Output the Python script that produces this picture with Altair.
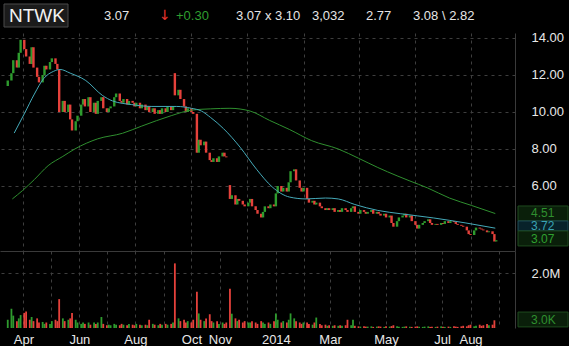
import altair as alt
import pandas as pd

# ---------------- data ----------------
closes = [
    11.7, 12.1, 12.8, 12.4, 13.2, 13.9, 13.4, 13.0, 12.6, 13.5,
    12.4, 11.9, 11.6, 12.0, 12.5, 12.3, 12.7, 12.9, 12.6, 12.3,
    10.0, 10.6, 10.0, 10.4, 9.6, 9.0, 9.5, 9.8, 10.4, 10.7,
    10.3, 10.8, 10.0, 10.5, 9.9, 10.6, 10.8, 10.2, 10.0, 10.2,
    10.3, 10.8, 11.0, 10.6, 10.5, 10.7, 10.4, 10.6, 10.5, 10.3,
    10.5, 10.2, 10.4, 10.1, 10.3, 10.0, 10.2, 9.9, 10.1, 9.9,
    10.2, 10.0, 10.3, 10.1, 10.3, 10.9, 11.2, 10.7, 10.3, 10.0,
    10.2, 10.0, 9.9, 7.8, 8.5, 8.2, 8.4, 7.8, 7.4, 7.3,
    7.5, 7.3, 7.6, 7.8, 7.6, 7.55, 5.3, 5.5, 5.0, 5.3,
    5.2, 5.0, 4.9, 5.1, 5.3, 4.9, 4.7, 4.5, 4.3, 4.6,
    4.9, 4.8, 5.0, 4.9, 5.6, 6.0, 5.7, 5.9, 5.7, 6.2,
    6.8, 6.9, 6.3, 5.9, 5.7, 5.9, 5.3, 5.1, 5.2, 5.0,
    5.1, 4.9, 4.8, 4.7, 4.8, 4.7, 4.8, 4.6, 4.7, 4.6,
    4.8, 4.7, 4.6, 4.8, 4.9, 4.6, 4.5, 4.7, 4.6, 4.5,
    4.6, 4.7, 4.5, 4.6, 4.5, 4.4, 4.5, 4.3, 4.4, 4.0,
    3.8, 4.1, 4.3, 4.4, 4.5, 4.3, 4.4, 4.1, 3.9, 3.7,
    3.9, 4.0, 4.1, 4.2, 4.0, 3.9, 3.95, 3.9, 4.0, 3.95,
    4.1, 4.0, 4.1, 4.05, 3.95, 3.9, 3.85, 3.8, 3.6, 3.4,
    3.35, 3.6, 3.75, 3.7, 3.65, 3.6, 3.5, 3.55, 3.4, 3.0,
    3.07,
]
first_open = 11.4
gap_index = [65, 86]          # sessions that opened away from the prior close
gap_open = [12.1, 6.05]

volumes_m = [
    0.3, 0.7, 0.45, 0.25, 0.35, 0.47, 0.55, 0.6, 0.3, 0.4,
    0.25, 0.35, 0.2, 0.22, 0.15, 0.2, 0.15, 0.25, 0.3, 0.25,
    1.05, 0.35, 0.25, 0.3, 0.35, 0.55, 0.3, 0.2, 0.15, 0.2,
    0.15, 0.2, 0.12, 0.2, 0.15, 0.2, 0.4, 0.15, 0.1, 0.12,
    0.1, 0.15, 0.12, 0.1, 0.15, 0.12, 0.1, 0.15, 0.12, 0.1,
    0.15, 0.12, 0.1, 0.12, 0.1, 0.3, 0.15, 0.12, 0.1, 0.15,
    0.12, 0.15, 0.12, 0.15, 0.2, 2.35, 0.35, 0.25, 0.3, 0.2,
    0.25, 0.2, 0.3, 1.32, 0.53, 0.3, 0.25, 0.35, 0.5, 0.25,
    0.2, 0.25, 0.15, 0.2, 0.15, 0.2, 1.43, 0.52, 0.35, 0.25,
    0.3, 0.2, 0.25, 0.2, 0.2, 0.25, 0.2, 0.15, 0.25, 0.2,
    0.15, 0.2, 0.15, 0.25, 0.53, 0.3, 0.2, 0.25, 0.2, 0.3,
    0.53, 0.35, 0.25, 0.2, 0.15, 0.2, 0.2, 0.15, 0.12, 0.2,
    0.38, 0.15, 0.1, 0.12, 0.08, 0.1, 0.08, 0.1, 0.08, 0.1,
    0.08, 0.1, 0.3, 0.1, 0.3, 0.08, 0.06, 0.05, 0.06, 0.05,
    0.05, 0.06, 0.04, 0.05, 0.06, 0.05, 0.04, 0.06, 0.05, 0.07,
    0.1, 0.06, 0.05, 0.04, 0.05, 0.06, 0.05, 0.04, 0.05, 0.06,
    0.05, 0.04, 0.05, 0.06, 0.04, 0.05, 0.04, 0.05, 0.06, 0.05,
    0.04, 0.05, 0.04, 0.06, 0.05, 0.04, 0.06, 0.08, 0.06, 0.1,
    0.12, 0.06, 0.08, 0.12, 0.08, 0.1, 0.15, 0.1, 0.12, 0.28,
    0.003,
]

ma50_dates = ["2013-03-22", "2013-04-02", "2013-04-13", "2013-04-23", "2013-05-04",
              "2013-05-11", "2013-05-22", "2013-06-08", "2013-06-26", "2013-07-07",
              "2013-07-28", "2013-08-19", "2013-09-15", "2013-10-01", "2013-10-12",
              "2013-10-22", "2013-11-05", "2013-11-23", "2013-12-11", "2013-12-28",
              "2014-01-16", "2014-02-03", "2014-02-24", "2014-03-10", "2014-03-28",
              "2014-04-22", "2014-05-17", "2014-06-22", "2014-07-27", "2014-08-28"]
ma50_vals = [8.86, 9.9, 10.97, 11.8, 12.2, 12.3, 12.1, 11.7, 10.9, 10.6,
             10.4, 10.3, 10.3, 10.2, 10.05, 9.7, 9.1, 8.1, 6.9, 5.95,
             5.4, 5.3, 5.35, 5.3, 5.0, 4.68, 4.5, 4.27, 4.0, 3.72]

ma200_dates = ["2013-03-20", "2013-03-31", "2013-04-13", "2013-04-28", "2013-05-14",
               "2013-05-27", "2013-06-21", "2013-07-18", "2013-08-08", "2013-09-09",
               "2013-10-01", "2013-10-22", "2013-11-12", "2013-12-04", "2013-12-25",
               "2014-01-16", "2014-02-09", "2014-03-10", "2014-04-01", "2014-04-22",
               "2014-05-13", "2014-05-27", "2014-06-15", "2014-07-09", "2014-08-02",
               "2014-08-28"]
ma200_vals = [5.3, 5.75, 6.35, 7.1, 7.6, 8.0, 8.55, 8.85, 9.24, 9.8,
              10.1, 10.17, 10.2, 10.05, 9.55, 9.05, 8.45, 8.0, 7.5, 7.0,
              6.55, 6.27, 5.9, 5.35, 4.95, 4.51]

month_ticks = [(2013, m) for m in range(4, 13)] + [(2014, m) for m in range(1, 10)]
labelled_months = ["2013-04", "2013-06", "2013-08", "2013-10", "2013-11",
                   "2014-01", "2014-03", "2014-05", "2014-07", "2014-08"]

header_items = [  # text, colour, font, size
    ("3.07", "#e6e6e6", "Arial", 13), ("\u2193", "#e8352e", "DejaVu Sans", 14),
    ("+0.30", "#2f9e2f", "Arial", 13), ("3.07 x 3.10", "#e6e6e6", "Arial", 13),
    ("3,032", "#e6e6e6", "Arial", 13), ("2.77", "#e6e6e6", "Arial", 13),
    ("3.08 \\ 2.82", "#e6e6e6", "Arial", 13),
]
header_x = [104, 159, 176, 236, 312, 366, 413]

price_tags = [  # label, text position, box low, box high, text colour, fill, stroke
    ("4.51", 4.53, 4.11, 4.92, "#2f8f2f", "#0a1f0a", "#1e4a1e"),
    ("3.72", 3.84, 3.57, 4.11, "#3aa3b3", "#08222a", "#1e4c57"),
    ("3.07", 3.14, 2.76, 3.57, "#2fa02f", "#0a1f0a", "#1e4a1e"),
]

# ---------------- build frames ----------------
RED = "#e5413b"
GREEN = "#2e9b2e"
CYAN = "#45aab9"
MA200C = "#2f8f2f"
GRID = "#3e3e3e"
BORDER = "#3a3a3a"
LABEL = "#e8e8e8"

opens = [first_open] + closes[:-1]
for gi, gv in zip(gap_index, gap_open):
    opens[gi] = gv
dates = pd.bdate_range("2013-03-15", periods=len(closes), freq="2B")
df = pd.DataFrame({
    "date": dates,
    "open": opens,
    "close": closes,
    "volume": [v * 1e6 for v in volumes_m],
})
df["dir"] = ["up" if c > o else "down" for o, c in zip(opens, closes)]

ma50_df = pd.DataFrame({"date": ma50_dates, "val": ma50_vals})
ma200_df = pd.DataFrame({"date": ma200_dates, "val": ma200_vals})
one = pd.DataFrame({"k": [0]})

x_scale = alt.Scale(domain=[alt.DateTime(year=2013, month=3, date=12),
                            alt.DateTime(year=2014, month=9, date=13)])
month_vals = [alt.DateTime(year=y, month=m, date=1) for (y, m) in month_ticks]
color_scale = alt.Scale(domain=["up", "down"], range=[GREEN, RED])

price_y = alt.Scale(domain=[2.486, 14.27], zero=False, nice=False)
vol_y = alt.Scale(domain=[0, 2.8e6], zero=True, nice=False)

grid_kw = dict(grid=True, gridColor=GRID, gridDash=[3, 4], gridWidth=1)

price_axis = alt.Axis(orient="right", values=[6, 8, 10, 12, 14], format=".2f",
                      ticks=False, domain=True, domainColor=BORDER,
                      labelColor=LABEL, labelFontSize=13, labelPadding=16,
                      title=None, **grid_kw)
x_axis_top = alt.Axis(values=month_vals, labels=False, ticks=False, domain=True,
                      domainColor=BORDER, title=None, **grid_kw)

label_list = "[" + ",".join("'%s'" % s for s in labelled_months) + "]"
x_axis_bottom = alt.Axis(
    values=month_vals, ticks=False, domain=False, title=None,
    labelExpr=("indexof(" + label_list + ", timeFormat(datum.value, '%Y-%m')) >= 0 ? "
               "(month(datum.value) == 0 ? timeFormat(datum.value, '%Y') : timeFormat(datum.value, '%b')) : ''"),
    labelColor=LABEL, labelFontSize=13, labelPadding=5, labelOverlap=False,
    labelFlush=False, **grid_kw)
vol_axis = alt.Axis(orient="right", values=[2e6], labelExpr="'2.0M'", ticks=False,
                    domain=True, domainColor=BORDER, labelColor=LABEL,
                    labelFontSize=13, labelPadding=16, title=None, **grid_kw)

# ---------------- price panel ----------------
candles = alt.Chart(df).mark_bar(size=2.4).encode(
    x=alt.X("date:T", scale=x_scale, axis=x_axis_top),
    y=alt.Y("open:Q", scale=price_y, axis=price_axis),
    y2="close:Q",
    color=alt.Color("dir:N", scale=color_scale, legend=None),
)
ma50 = alt.Chart(ma50_df).mark_line(color=CYAN, strokeWidth=1, interpolate="monotone").encode(
    x=alt.X("date:T", scale=x_scale, title=None),
    y=alt.Y("val:Q", scale=price_y, title=None),
)
ma200 = alt.Chart(ma200_df).mark_line(color=MA200C, strokeWidth=1, interpolate="monotone").encode(
    x=alt.X("date:T", scale=x_scale, title=None),
    y=alt.Y("val:Q", scale=price_y, title=None),
)

layers = [candles, ma200, ma50]

for lab, ty, lo, hi, tc, fill, stroke in price_tags:
    tdf = pd.DataFrame({"lo": [lo], "hi": [hi], "ty": [ty], "lab": [lab]})
    layers.append(alt.Chart(tdf).mark_rect(fill=fill, stroke=stroke, strokeWidth=1).encode(
        x=alt.value(518), x2=alt.value(568),
        y=alt.Y("hi:Q", scale=price_y, title=None), y2="lo:Q"))
    layers.append(alt.Chart(tdf).mark_text(align="left", baseline="middle", fontSize=12,
                                           color=tc, font="Arial").encode(
        x=alt.value(531), y=alt.Y("ty:Q", scale=price_y, title=None), text="lab:N"))

# header
layers.append(alt.Chart(one).mark_rect(fill="#1b1b1b", stroke="#4a4a4a", strokeWidth=1).encode(
    x=alt.value(4), x2=alt.value(68), y=alt.value(-29), y2=alt.value(-6)))
layers.append(alt.Chart(one).mark_text(text="NTWK", align="left", baseline="middle",
                                       fontSize=19, color="#f2f2f2", font="Arial").encode(
    x=alt.value(9), y=alt.value(-17)))
for (txt, col, fnt, fs), hx in zip(header_items, header_x):
    layers.append(alt.Chart(one).mark_text(text=txt, align="left", baseline="middle",
                                           fontSize=fs, color=col, font=fnt).encode(
        x=alt.value(hx), y=alt.value(-17)))

price = alt.layer(*layers).properties(width=515, height=218)

# ---------------- volume panel ----------------
volbars = alt.Chart(df).mark_bar(size=1.8).encode(
    x=alt.X("date:T", scale=x_scale, axis=x_axis_bottom),
    y=alt.Y("volume:Q", scale=vol_y, axis=vol_axis),
    color=alt.Color("dir:N", scale=color_scale, legend=None),
)
vtag = pd.DataFrame({"lo": [0.04e6], "hi": [0.58e6], "ty": [0.3e6], "lab": ["3.0K"]})
vrect = alt.Chart(vtag).mark_rect(fill="#0a1f0a", stroke="#1e4a1e", strokeWidth=1).encode(
    x=alt.value(518), x2=alt.value(568),
    y=alt.Y("hi:Q", scale=vol_y, title=None), y2="lo:Q")
vtext = alt.Chart(vtag).mark_text(align="left", baseline="middle", fontSize=12,
                                  color="#2f8f2f", font="Arial").encode(
    x=alt.value(531), y=alt.Y("ty:Q", scale=vol_y, title=None), text="lab:N")

volume = alt.layer(volbars, vrect, vtext).properties(width=515, height=77)

chart = alt.vconcat(price, volume, spacing=0).properties(
    background="#000000",
    padding={"left": 0, "top": 3, "right": 0, "bottom": 0},
).configure_view(strokeWidth=0).configure_axis(labelFont="Arial")

chart.save("out.html", embed_options={"renderer": "svg", "actions": False})
